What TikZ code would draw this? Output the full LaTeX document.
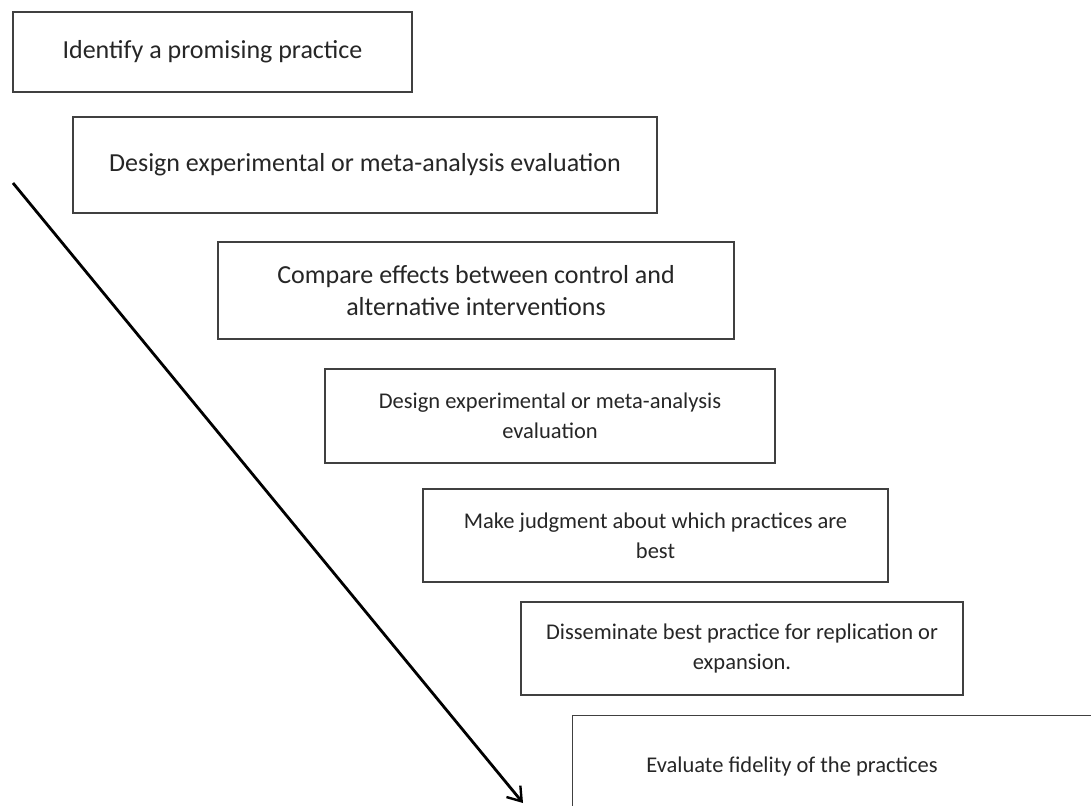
\documentclass[tikz,border=0pt]{standalone}
\usepackage{fontspec}
\setmainfont{Carlito}
\usetikzlibrary{arrows.meta}
\begin{document}
\begin{tikzpicture}[x=1pt,y=-1pt,
  stepbox/.style={draw=black!75, line width=1.3pt, fill=white, text=black!85,
    align=center, inner sep=0pt,
    font=\fontsize{26}{32}\selectfont},
  smallstep/.style={stepbox, font=\fontsize{22.5}{30}\selectfont},
  steptext/.style={text=black!85, inner sep=0pt, font=\fontsize{22.5}{30}\selectfont},
  flow/.style={line width=2.8pt, -{Straight Barb[length=13pt,width=18pt,line width=2.4pt]}}]
  \fill[white] (0,0) rectangle (1091,805);
  \useasboundingbox (0,0) rectangle (1091,805);
  \clip (0,0) rectangle (1091,805);

  % staircase of process steps
  \node[stepbox, minimum width=399pt, minimum height=80pt] (b1) at (212.5,52)
    {Identify a promising practice};
  \node[stepbox, minimum width=584pt, minimum height=96pt] (b2) at (365,165)
    {Design experimental or meta-analysis evaluation};
  \node[stepbox, minimum width=516pt, minimum height=97pt] (b3) at (476,290.5)
    {Compare effects between control and\\alternative interventions};
  \node[smallstep, minimum width=450pt, minimum height=94pt] (b4) at (550,416)
    {Design experimental or meta-analysis\\evaluation};
  \node[smallstep, minimum width=465pt, minimum height=93pt] (b5) at (655.5,535.5)
    {Make judgment about which practices are\\best};
  \node[smallstep, minimum width=442pt, minimum height=93pt] (b6) at (742,648.5)
    {Disseminate best practice for replication or\\expansion.};
  \node[stepbox, minimum width=580pt, minimum height=120pt, anchor=north west] (b7) at (572,715) {};
  \node[steptext] (t7) at (792,766) {Evaluate fidelity of the practices};

  % overall direction of the process
  \coordinate (start) at (13,183);
  \coordinate (finish) at (523,803);
  \draw[flow] (start) -- (finish);
\end{tikzpicture}
\end{document}
